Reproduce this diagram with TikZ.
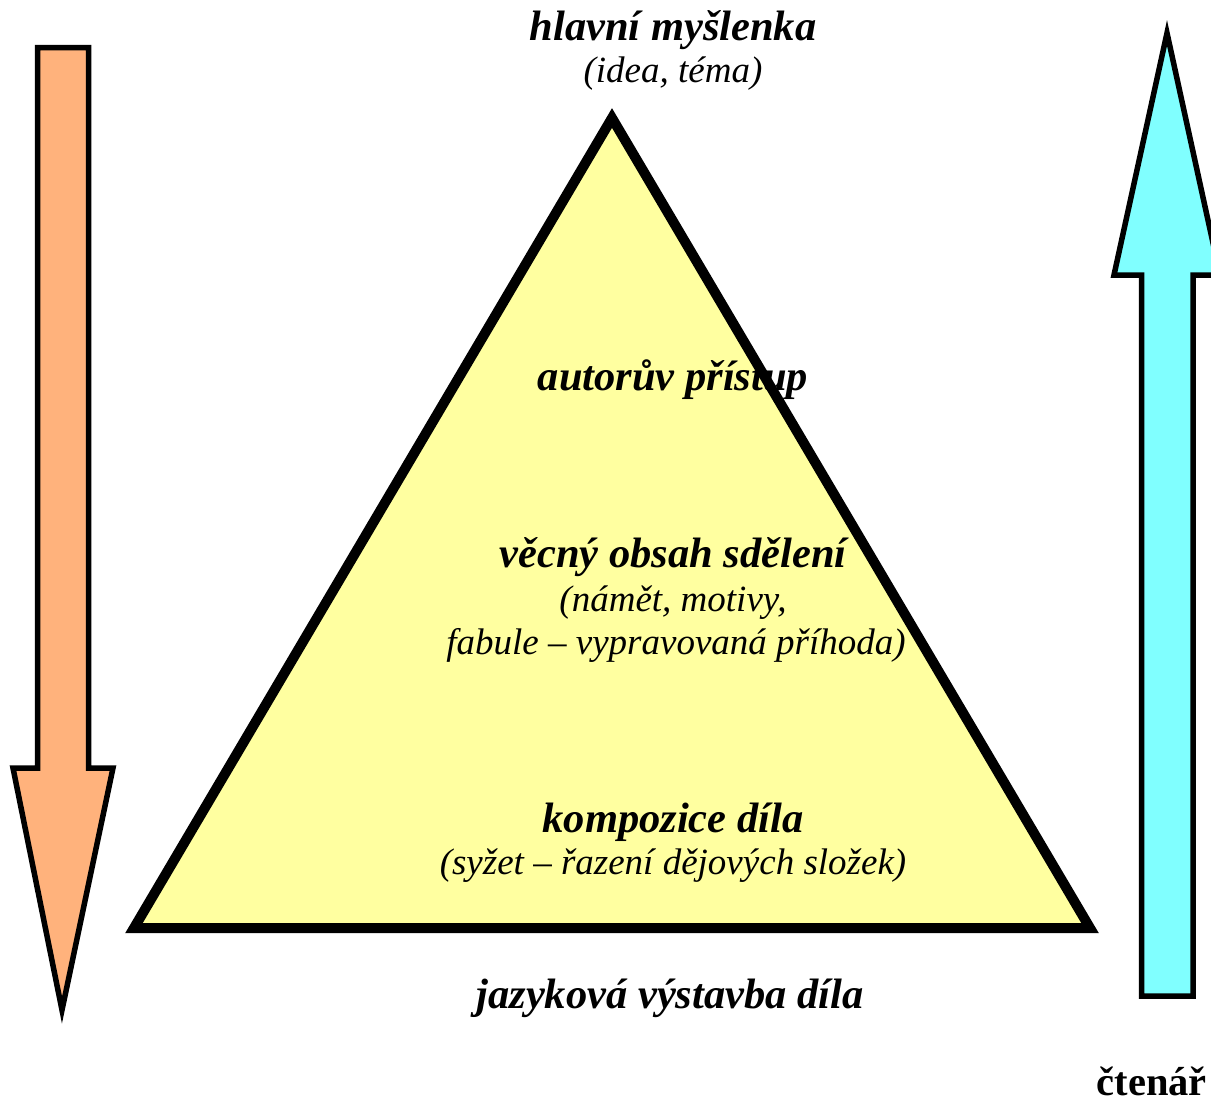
\documentclass[tikz,border=0pt]{standalone}
\usepackage{fontspec}
\setmainfont{Liberation Serif}
\begin{document}
\begin{tikzpicture}[x=1pt,y=-1pt,
  shapeline/.style={draw=black,line join=miter},
  bigtxt/.style={font=\fontsize{42.5}{46}\selectfont\bfseries\itshape,anchor=base,inner sep=0pt},
  subtxt/.style={font=\fontsize{37}{40}\selectfont\itshape,anchor=base,inner sep=0pt}]
\definecolor{peach}{RGB}{255,178,124}
\definecolor{cyanfill}{RGB}{128,255,255}
\definecolor{yellowfill}{RGB}{255,255,160}
\useasboundingbox (0,0) rectangle (1211,1104);
% left arrow (down)
\draw[shapeline,line width=5.5pt,fill=peach] (37.5,47.5) -- (88.5,47.5) -- (88.5,768) -- (113,768) -- (62,1010) -- (13,768) -- (37.5,768) -- cycle;
% right arrow (up)
\draw[shapeline,line width=5.5pt,fill=cyanfill] (1141.5,996) -- (1193,996) -- (1193,275) -- (1220,275) -- (1167,33) -- (1114,275) -- (1141.5,275) -- cycle;
% triangle
\draw[shapeline,line width=10pt,fill=yellowfill] (612,118) -- (1090,928) -- (134,928) -- cycle;
% texts
\node[bigtxt] (t1) at (673,40) {hlavní myšlenka};
\node[subtxt] (t1s) at (673,82) {(idea, téma)};
\node[bigtxt] (t2) at (673,390) {autorův přístup};
\node[bigtxt] (t3) at (673,567) {věcný obsah sdělení};
\node[subtxt] (t3a) at (673,611) {(námět, motivy,};
\node[subtxt] (t3b) at (676,654) {fabule – vypravovaná příhoda)};
\node[bigtxt] (t4) at (673,832) {kompozice díla};
\node[subtxt] (t4s) at (673,874) {(syžet – řazení dějových složek)};
\node[bigtxt] (t5) at (670,1008) {jazyková výstavba díla};
\node[font=\fontsize{40.5}{44}\selectfont\bfseries,anchor=base east,inner sep=0pt] (t6) at (1207,1095) {čtenář};
\end{tikzpicture}
\end{document}
